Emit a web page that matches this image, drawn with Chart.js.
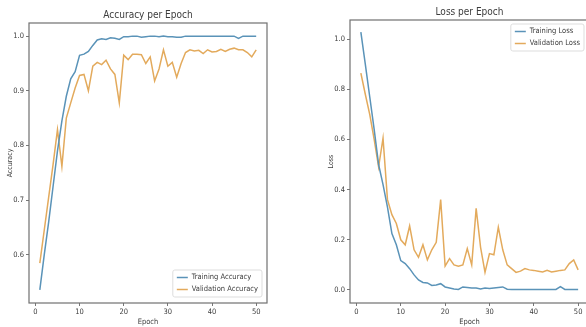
<!DOCTYPE html>
<html>
<head>
<meta charset="utf-8">
<script src="https://cdn.jsdelivr.net/npm/chart.js@4/dist/chart.umd.min.js"></script>
<style>
  html, body { margin: 0; padding: 0; background: #fff; overflow: hidden; width: 586px; height: 327px; }
  .box { position: absolute; top: 0; height: 327px; }
</style>
</head>
<body>
<div class="box" style="left:0;width:293px"><canvas id="acc"></canvas></div>
<div class="box" style="left:293px;width:300px"><canvas id="loss"></canvas></div>
<script>
const epochs = Array.from({ length: 50 }, (_, i) => i + 1);
const xTicks = [0, 10, 20, 30, 40, 50];

const trainAcc = [0.536, 0.60, 0.66, 0.725, 0.79, 0.845, 0.89, 0.922, 0.935, 0.965,
  0.967, 0.972, 0.983, 0.993, 0.995, 0.994, 0.997, 0.996, 0.994, 0.999,
  0.999, 1.0, 1.0, 0.998, 0.999, 1.0, 1.0, 0.999, 1.0, 0.999,
  0.999, 0.998, 0.998, 1.0, 1.0, 1.0, 1.0, 1.0, 1.0, 1.0,
  1.0, 1.0, 1.0, 1.0, 1.0, 0.996, 1.0, 1.0, 1.0, 1.0];
const valAcc = [0.585, 0.645, 0.705, 0.765, 0.829, 0.762, 0.85, 0.878, 0.905, 0.928,
  0.93, 0.90, 0.945, 0.952, 0.948, 0.956, 0.94, 0.93, 0.878, 0.965,
  0.957, 0.967, 0.967, 0.966, 0.95, 0.962, 0.918, 0.94, 0.975, 0.945,
  0.952, 0.925, 0.95, 0.97, 0.975, 0.973, 0.974, 0.968, 0.975, 0.971,
  0.972, 0.976, 0.972, 0.976, 0.978, 0.975, 0.975, 0.97, 0.962, 0.975];
const accTicks = [0.6, 0.7, 0.8, 0.9, 1.0];

const trainLoss = [1.028, 0.90, 0.77, 0.64, 0.50, 0.42, 0.33, 0.225, 0.18, 0.117,
  0.105, 0.085, 0.06, 0.04, 0.03, 0.028, 0.018, 0.02, 0.025, 0.012,
  0.008, 0.004, 0.002, 0.012, 0.01, 0.008, 0.008, 0.004, 0.008, 0.006,
  0.008, 0.01, 0.012, 0.003, 0.002, 0.002, 0.002, 0.002, 0.002, 0.002,
  0.002, 0.002, 0.002, 0.002, 0.002, 0.013, 0.002, 0.002, 0.002, 0.002];
const valLoss = [0.864, 0.78, 0.70, 0.60, 0.49, 0.605, 0.36, 0.30, 0.265, 0.20,
  0.18, 0.255, 0.16, 0.13, 0.18, 0.12, 0.16, 0.19, 0.36, 0.095,
  0.125, 0.10, 0.095, 0.10, 0.165, 0.10, 0.325, 0.17, 0.07, 0.145,
  0.14, 0.25, 0.16, 0.10, 0.085, 0.07, 0.075, 0.085, 0.08, 0.078,
  0.075, 0.072, 0.078, 0.072, 0.075, 0.078, 0.08, 0.105, 0.12, 0.08];
const lossTicks = [0.0, 0.2, 0.4, 0.6, 0.8, 1.0];

const FONT = "'Liberation Sans Narrow', 'DejaVu Sans Condensed', sans-serif";
const TXT = '#3c3c3c';
const BLUE = '#5a93b8';
const ORANGE = '#e3aa5c';

// title, frame and in-axes legend drawn the matplotlib way
const framePlugin = {
  id: 'frame',
  afterDraw(chart, args, opts) {
    const { ctx, chartArea: a } = chart;
    ctx.save();
    ctx.strokeStyle = '#707070';
    ctx.lineWidth = 1.2;
    ctx.strokeRect(a.left, a.top, a.right - a.left, a.bottom - a.top);

    ctx.fillStyle = TXT;
    ctx.font = '10px ' + FONT;
    ctx.textAlign = 'center';
    ctx.textBaseline = 'alphabetic';
    ctx.fillText(opts.title, (a.left + a.right) / 2, a.top - 5);

    // legend
    ctx.font = '7.5px ' + FONT;
    const sets = chart.data.datasets;
    const tw = Math.max(...sets.map(d => ctx.measureText(d.label).width));
    const w = 4 + 11 + 4 + tw + 4, h = sets.length * 12 + 3;
    const x = a.right - 5 - w;
    const y = opts.legend === 'lower right' ? a.bottom - 6 - h : a.top + 4;
    ctx.fillStyle = 'rgba(255,255,255,0.85)';
    ctx.strokeStyle = '#dddddd';
    ctx.lineWidth = 1;
    ctx.beginPath();
    ctx.roundRect(x, y, w, h, 2);
    ctx.fill();
    ctx.stroke();
    ctx.textAlign = 'left';
    ctx.textBaseline = 'middle';
    sets.forEach((d, i) => {
      const ly = y + 7.5 + i * 12;
      ctx.strokeStyle = d.borderColor;
      ctx.lineWidth = 1.5;
      ctx.beginPath();
      ctx.moveTo(x + 4, ly);
      ctx.lineTo(x + 15, ly);
      ctx.stroke();
      ctx.fillStyle = TXT;
      ctx.fillText(d.label, x + 19, ly);
    });
    ctx.restore();
  }
};

function makeChart(id, cfg) {
  const pts = arr => arr.map((v, i) => ({ x: epochs[i], y: v }));
  return new Chart(document.getElementById(id), {
    type: 'line',
    data: {
      datasets: cfg.series.map(s => ({
        label: s.label,
        data: pts(s.values),
        borderColor: s.color,
        borderWidth: 1.5,
        pointRadius: 0,
        tension: 0,
        fill: false
      }))
    },
    options: {
      responsive: true,
      maintainAspectRatio: false,
      animation: false,
      events: [],
      layout: { padding: { left: cfg.padLeft, right: cfg.padRight, top: cfg.top, bottom: 0 } },
      plugins: {
        legend: { display: false },
        tooltip: { enabled: false },
        frame: { title: cfg.title, legend: cfg.legend }
      },
      scales: {
        x: {
          type: 'linear',
          min: -1.45,
          max: 52.45,
          afterBuildTicks: ax => { ax.ticks = xTicks.map(v => ({ value: v })); },
          afterFit: ax => { ax.height = 24; },
          grid: { drawOnChartArea: false, drawTicks: true, tickLength: 3, color: '#777' },
          border: { display: false },
          ticks: { color: TXT, font: { family: FONT, size: 7.5 }, padding: 2, maxRotation: 0, callback: v => String(v) },
          title: { display: true, text: 'Epoch', color: TXT, font: { family: FONT, size: 7.5 }, padding: 0 }
        },
        y: {
          min: cfg.yMin,
          max: cfg.yMax,
          afterBuildTicks: ax => { ax.ticks = cfg.yTicks.map(v => ({ value: v })); },
          afterFit: ax => { ax.width = 23; },
          grid: { drawOnChartArea: false, drawTicks: true, tickLength: 3, color: '#777' },
          border: { display: false },
          ticks: { color: TXT, font: { family: FONT, size: 7.5 }, padding: 2, callback: v => v.toFixed(1) },
          title: { display: true, text: cfg.yLabel, color: TXT, font: { family: FONT, size: 7 }, padding: 0 }
        }
      }
    },
    plugins: [framePlugin]
  });
}

makeChart('acc', {
  title: 'Accuracy per Epoch',
  yLabel: 'Accuracy',
  legend: 'lower right',
  series: [
    { label: 'Training Accuracy', values: trainAcc, color: BLUE },
    { label: 'Validation Accuracy', values: valAcc, color: ORANGE }
  ],
  yMin: 0.512, yMax: 1.024, yTicks: accTicks,
  padLeft: 6, padRight: 26, top: 23
});

makeChart('loss', {
  title: 'Loss per Epoch',
  yLabel: 'Loss',
  legend: 'upper right',
  series: [
    { label: 'Training Loss', values: trainLoss, color: BLUE },
    { label: 'Validation Loss', values: valLoss, color: ORANGE }
  ],
  yMin: -0.052, yMax: 1.076, yTicks: lossTicks,
  padLeft: 34, padRight: 4, top: 20
});
</script>
</body>
</html>
